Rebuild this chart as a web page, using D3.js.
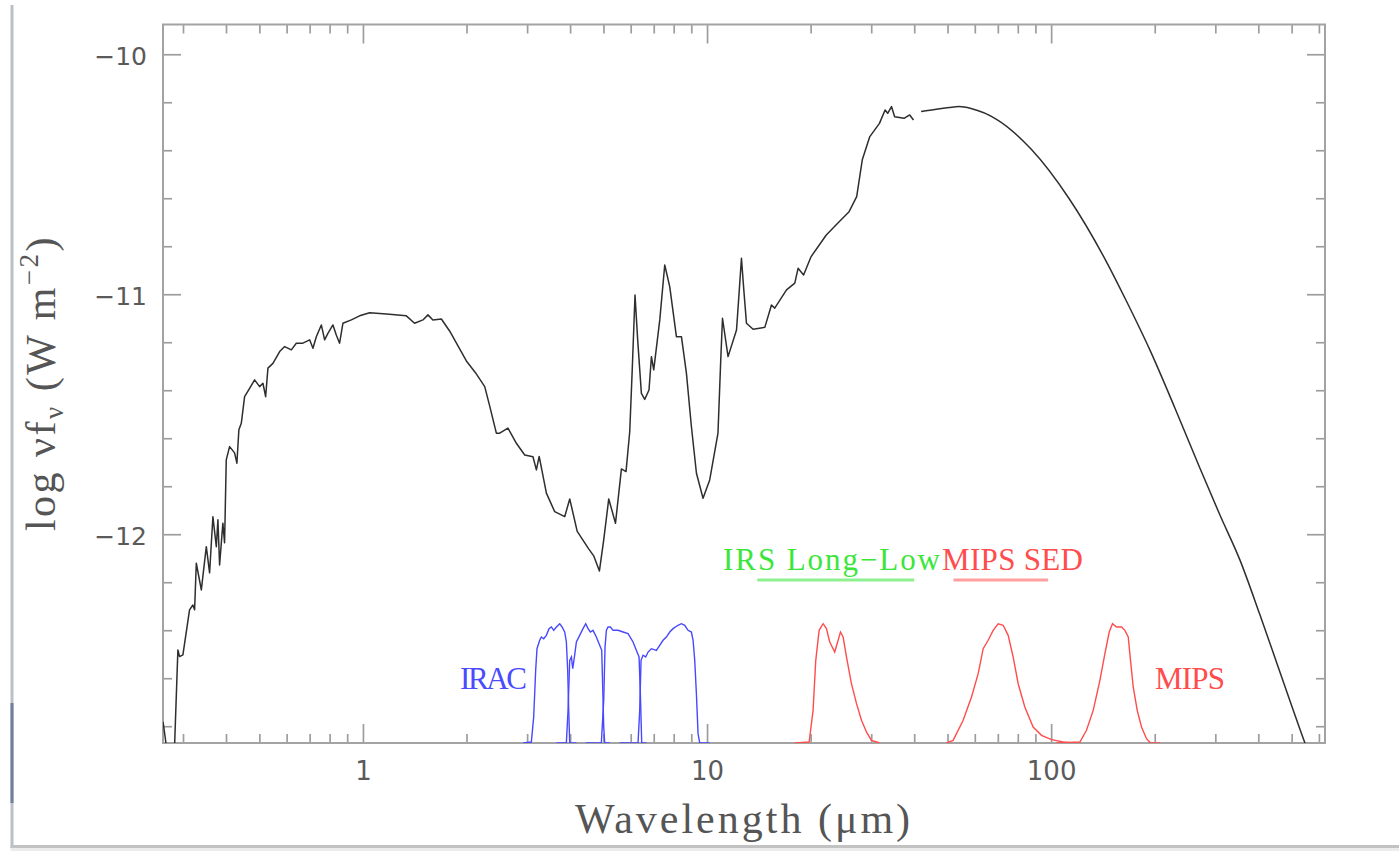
<!DOCTYPE html>
<html>
<head>
<meta charset="utf-8">
<script src="https://cdn.jsdelivr.net/npm/d3@7"></script>
<style>
  html, body { margin: 0; padding: 0; background: #fff; }
  svg { display: block; }
  text { white-space: pre; }
</style>
</head>
<body>
<svg id="chart" width="1399" height="851"></svg>
<script>
// ---- Spectral energy distribution: wavelength (µm) and log νfν (W m^-2) ----
const spectrumWave = [0.2625,0.2688,0.2761,0.2836,0.2899,0.2932,0.2998,0.3134,0.3205,0.3242,
  0.3279,0.3391,0.3506,0.3584,0.3664,0.3749,0.3789,0.3832,0.3917,0.3962,
  0.4007,0.4097,0.4236,0.4302,0.4360,0.4431,0.4530,0.4684,0.4844,0.5009,
  0.5121,0.5215,0.5296,0.5476,0.5728,0.5923,0.6193,0.6403,0.6692,0.7000,
  0.7157,0.7320,0.7570,0.7739,0.7910,0.8181,0.8367,0.8554,0.8746,0.9253,
  0.9781,1.046,1.170,1.337,1.413,1.494,1.545,1.597,1.690,1.786,
  1.998,2.126,2.259,2.335,2.442,2.497,2.639,2.792,2.952,3.120,
  3.192,3.252,3.413,3.608,3.858,3.990,4.195,4.530,4.684,4.867,
  5.009,5.180,5.420,5.639,5.815,5.961,6.062,6.176,6.287,6.445,
  6.590,6.782,6.893,7.000,7.289,7.535,7.791,8.147,8.425,8.711,
  8.997,9.316,9.736,10.18,10.76,10.96,11.09,11.51,12.18,12.41,
  12.59,12.79,13.02,13.61,14.72,15.39,15.73,17.02,17.99,18.39,
  19.08,20.07,22.21,23.97,25.87,27.22,28.26,29.72,31.70,32.92,
  33.50,34.36,35.09,37.36,38.81,39.81];
const spectrumFlux = [-12.782,-12.890,-13.107,-12.878,-12.482,-12.510,-12.503,-12.315,-12.295,-12.315,
  -12.121,-12.232,-12.052,-12.161,-11.927,-12.052,-11.940,-12.128,-11.954,-12.036,
  -11.690,-11.635,-11.661,-11.704,-11.565,-11.538,-11.427,-11.392,-11.357,-11.385,
  -11.371,-11.427,-11.308,-11.288,-11.239,-11.218,-11.232,-11.204,-11.204,-11.190,
  -11.225,-11.177,-11.128,-11.190,-11.163,-11.128,-11.170,-11.204,-11.121,-11.107,
  -11.090,-11.077,-11.082,-11.090,-11.121,-11.107,-11.086,-11.107,-11.103,-11.153,
  -11.278,-11.328,-11.385,-11.465,-11.579,-11.579,-11.558,-11.621,-11.670,-11.677,
  -11.732,-11.676,-11.829,-11.906,-11.927,-11.853,-11.988,-12.061,-12.090,-12.153,
  -12.024,-11.853,-11.954,-11.728,-11.739,-11.573,-11.315,-11.003,-11.190,-11.413,
  -11.438,-11.399,-11.260,-11.315,-11.107,-10.878,-10.968,-11.177,-11.177,-11.329,
  -11.545,-11.746,-11.850,-11.774,-11.579,-11.274,-11.100,-11.260,-11.149,-10.982,
  -10.850,-10.982,-11.121,-11.146,-11.138,-11.045,-11.058,-10.982,-10.954,-10.892,
  -10.920,-10.843,-10.753,-10.704,-10.656,-10.593,-10.440,-10.343,-10.288,-10.232,
  -10.246,-10.218,-10.260,-10.267,-10.253,-10.274];

// Far-infrared model continuation
const modelWave = [41.89,46.35,50.50,53.99,58.50,69.58,87.43,112.6,145.2,164.9,193.6,228.9,270.5,309.4,353.6,404.4,462.2,546.5,584.3];
const modelFlux = [-10.239,-10.229,-10.222,-10.218,-10.226,-10.272,-10.395,-10.600,-10.868,-11.024,-11.232,-11.474,-11.724,-11.920,-12.107,-12.336,-12.574,-12.870,-12.982];

// ---- Relative spectral response of the Spitzer bands ----
const irac1Wave = [2.919,3.086,3.135,3.177,3.205,3.263,3.300,3.352,3.412,3.474,3.529,3.584,3.649,3.731,3.790,3.858,3.901,3.936,3.963,3.990,4.172];
const irac1Resp = [0,0.008,0.217,0.606,0.786,0.856,0.883,0.869,0.897,0.953,0.967,0.939,0.967,0.994,0.967,0.925,0.842,0.606,0.272,0,0];
const irac2Wave = [3.649,3.901,3.945,3.990,4.035,4.071,4.117,4.172,4.265,4.361,4.440,4.510,4.581,4.663,4.768,4.876,4.942,4.975,5.009,5.042,5.214];
const irac2Resp = [0,0,0.272,0.689,0.717,0.619,0.717,0.842,0.897,0.953,0.994,0.953,0.925,0.939,0.883,0.814,0.772,0.467,0.133,0,0];
const irac3Wave = [4.440,4.930,5.009,5.053,5.099,5.156,5.237,5.332,5.513,5.701,5.894,6.095,6.260,6.345,6.401,6.459,6.664];
const irac3Resp = [0,0,0.356,0.800,0.939,0.967,0.967,0.939,0.939,0.925,0.911,0.842,0.758,0.717,0.411,0,0];
const irac4Wave = [5.575,6.302,6.373,6.430,6.517,6.634,6.739,6.891,7.125,7.286,7.450,7.618,7.791,7.966,8.237,8.423,8.613,8.807,9.007,9.108,9.210,9.313,9.417,9.524,10.18];
const irac4Resp = [0,0,0.272,0.689,0.731,0.717,0.758,0.786,0.772,0.814,0.856,0.883,0.925,0.953,0.981,0.994,0.981,0.939,0.925,0.856,0.689,0.411,0.078,0,0];
const mips24Wave = [17.99,19.80,20.33,20.70,21.17,21.75,22.23,22.73,23.50,24.04,24.42,24.86,25.42,26.28,27.19,28.11,29.06,30.05,31.77];
const mips24Resp = [0,0.008,0.272,0.689,0.939,0.994,0.953,0.842,0.758,0.856,0.925,0.883,0.717,0.494,0.328,0.189,0.092,0.022,0];
const mips70Wave = [49.63,51.90,55.50,58.69,61.37,63.46,65.61,67.84,70.15,72.54,75.01,77.55,80.21,83.85,88.65,93.76,100.3,108.4,115.9];
const mips70Resp = [0,0.022,0.189,0.383,0.578,0.786,0.856,0.939,0.994,0.981,0.897,0.717,0.494,0.300,0.133,0.064,0.028,0.008,0];
const mips160Wave = [103.7,121.2,126.7,132.5,138.6,143.3,147.5,150.8,154.9,160.2,163.8,167.5,170.1,173.2,177.9,183.1,189.3,194.5,207.0];
const mips160Resp = [0,0.008,0.106,0.272,0.522,0.744,0.925,0.994,0.967,0.967,0.939,0.883,0.689,0.467,0.272,0.133,0.036,0,0];

// Spectrograph coverage (µm)
const irsLongLowRange = [14, 40];
const mipsSedRange = [52, 98];

// ---- Axes ----
const xDomain = [0.2624, 625];
const yDomain = [-12.87, -9.876];
const xMajorTicks = [1, 10, 100];
const xMinorTicks = [0.3,0.4,0.5,0.6,0.7,0.8,0.9, 2,3,4,5,6,7,8,9, 20,30,40,50,60,70,80,90, 200,300,400,500,600];
const yMajorTicks = [-12, -11, -10];
const yMinorTicks = [-12.8,-12.6,-12.4,-12.2,-11.8,-11.6,-11.4,-11.2,-10.8,-10.6,-10.4,-10.2];
const xAxisTitle = "Wavelength (\u03bcm)";

// ---------------------------------------------------------------------------
const plot = { left: 163, right: 1325, top: 24.5, bottom: 743 };
const svg = d3.select("#chart");

const x = d3.scaleLog().domain(xDomain).range([plot.left, plot.right]);
const y = d3.scaleLinear().domain(yDomain).range([plot.bottom, plot.top]);
const resp = d3.scaleLinear().domain([0, 1]).range([plot.bottom, plot.bottom - 120]);

// page edge
svg.append("rect").attr("x", 10.5).attr("y", 5).attr("width", 3).attr("height", 843).attr("fill", "#b9c0c8");
svg.append("rect").attr("x", 10.5).attr("y", 703).attr("width", 3).attr("height", 100).attr("fill", "#6f809c");
svg.append("rect").attr("x", 10.5).attr("y", 845).attr("width", 1389).attr("height", 3).attr("fill", "#c2c2c2");
svg.append("rect").attr("x", 10.5).attr("y", 848).attr("width", 1389).attr("height", 3).attr("fill", "#ececec");

svg.append("clipPath").attr("id", "plotClip")
  .append("rect")
  .attr("x", plot.left).attr("y", plot.top)
  .attr("width", plot.right - plot.left).attr("height", plot.bottom - plot.top);

const tickColor = "#9d9d9d";
function styleAxis(g) {
  g.select(".domain").remove();
  g.selectAll(".tick line").attr("stroke", tickColor).attr("stroke-width", 1.7);
}

// bottom axis with labels
svg.append("g").attr("transform", `translate(0,${plot.bottom})`)
  .call(d3.axisBottom(x).tickValues(xMajorTicks).tickFormat(d3.format("d"))
    .tickSizeInner(-19).tickSizeOuter(0).tickPadding(18.5))
  .call(styleAxis)
  .call(g => g.selectAll("text").attr("font-family", "DejaVu Sans").attr("font-size", 26).attr("fill", "#5a5a5a"));
svg.append("g").attr("transform", `translate(0,${plot.bottom})`)
  .call(d3.axisBottom(x).tickValues(xMinorTicks).tickFormat("").tickSizeInner(-9).tickSizeOuter(0))
  .call(styleAxis);
// top axis
svg.append("g").attr("transform", `translate(0,${plot.top})`)
  .call(d3.axisTop(x).tickValues(xMajorTicks).tickFormat("").tickSizeInner(-19).tickSizeOuter(0))
  .call(styleAxis);
svg.append("g").attr("transform", `translate(0,${plot.top})`)
  .call(d3.axisTop(x).tickValues(xMinorTicks).tickFormat("").tickSizeInner(-9).tickSizeOuter(0))
  .call(styleAxis);
// left axis with labels
svg.append("g").attr("transform", `translate(${plot.left},0)`)
  .call(d3.axisLeft(y).tickValues(yMajorTicks).tickFormat(d3.format("d"))
    .tickSizeInner(-18).tickSizeOuter(0).tickPadding(16))
  .call(styleAxis)
  .call(g => g.selectAll("text").attr("font-family", "DejaVu Sans").attr("font-size", 25)
    .attr("fill", "#5a5a5a").attr("dy", "0.42em"));
svg.append("g").attr("transform", `translate(${plot.left},0)`)
  .call(d3.axisLeft(y).tickValues(yMinorTicks).tickFormat("").tickSizeInner(-9).tickSizeOuter(0))
  .call(styleAxis);
// right axis
svg.append("g").attr("transform", `translate(${plot.right},0)`)
  .call(d3.axisRight(y).tickValues(yMajorTicks).tickFormat("").tickSizeInner(-18).tickSizeOuter(0))
  .call(styleAxis);
svg.append("g").attr("transform", `translate(${plot.right},0)`)
  .call(d3.axisRight(y).tickValues(yMinorTicks).tickFormat("").tickSizeInner(-9).tickSizeOuter(0))
  .call(styleAxis);

// plot frame
svg.append("rect")
  .attr("x", plot.left).attr("y", plot.top)
  .attr("width", plot.right - plot.left).attr("height", plot.bottom - plot.top)
  .attr("fill", "none").attr("stroke", "#a3a3a3").attr("stroke-width", 2);

const marks = svg.append("g").attr("clip-path", "url(#plotClip)");

// band responses
const respLine = d3.line().x(d => x(d[0])).y(d => resp(d[1]));
const bands = [
  { wave: irac1Wave, r: irac1Resp, color: "#4848ff" },
  { wave: irac2Wave, r: irac2Resp, color: "#4848ff" },
  { wave: irac3Wave, r: irac3Resp, color: "#4848ff" },
  { wave: irac4Wave, r: irac4Resp, color: "#4848ff" },
  { wave: mips24Wave, r: mips24Resp, color: "#ff4c4c" },
  { wave: mips70Wave, r: mips70Resp, color: "#ff4c4c" },
  { wave: mips160Wave, r: mips160Resp, color: "#ff4c4c" }
];
marks.selectAll("path.band").data(bands).join("path")
  .attr("class", "band")
  .attr("d", b => respLine(d3.zip(b.wave, b.r)))
  .attr("fill", "none").attr("stroke", b => b.color).attr("stroke-width", 1.4);

// SED
const sedLine = d3.line().x(d => x(d[0])).y(d => y(d[1]));
marks.append("path")
  .attr("d", sedLine(d3.zip(spectrumWave, spectrumFlux)))
  .attr("fill", "none").attr("stroke", "#2e2e2e").attr("stroke-width", 1.5).attr("stroke-linejoin", "round");
marks.append("path")
  .attr("d", sedLine.curve(d3.curveMonotoneX)(d3.zip(modelWave, modelFlux)))
  .attr("fill", "none").attr("stroke", "#2e2e2e").attr("stroke-width", 1.5);

// band labels
const serif = "Liberation Serif, Times New Roman, serif";
function label(text, xPos, yPos, color, len) {
  svg.append("text").attr("x", xPos).attr("y", yPos)
    .attr("font-family", serif).attr("font-size", 31).attr("fill", color)
    .attr("textLength", len).attr("lengthAdjust", "spacing")
    .text(text);
}
label("IRAC", 460, 689, "#4a4aff", 67);
label("MIPS", 1155, 689, "#ff4c4c", 70);
label("IRS Long\u2212Low", 723, 570, "#3be63b", 217);
label("MIPS SED", 942, 570, "#ff4c4c", 141);

// spectrograph coverage bars
svg.append("line").attr("x1", x(irsLongLowRange[0])).attr("x2", x(irsLongLowRange[1]))
  .attr("y1", 580).attr("y2", 580).attr("stroke", "#8ef08e").attr("stroke-width", 3);
svg.append("line").attr("x1", x(mipsSedRange[0])).attr("x2", x(mipsSedRange[1]))
  .attr("y1", 580).attr("y2", 580).attr("stroke", "#ffa0a0").attr("stroke-width", 3);

// axis titles
svg.append("text")
  .attr("x", (plot.left + plot.right) / 2).attr("y", 833)
  .attr("text-anchor", "middle")
  .attr("font-family", serif).attr("font-size", 42).attr("fill", "#555")
  .attr("letter-spacing", 3)
  .text(xAxisTitle);

const yTitle = svg.append("text")
  .attr("transform", "translate(55,383) rotate(-90)")
  .attr("text-anchor", "middle")
  .attr("font-family", serif).attr("font-size", 42).attr("fill", "#555")
  .attr("letter-spacing", 2.5);
yTitle.append("tspan").text("log \u03bdf");
yTitle.append("tspan").attr("font-size", 27).attr("dy", 8).text("\u03bd");
yTitle.append("tspan").attr("dy", -8).text(" (W m");
yTitle.append("tspan").attr("font-size", 27).attr("dy", -17).text("\u22122");
yTitle.append("tspan").attr("dy", 17).text(")");
</script>
</body>
</html>
